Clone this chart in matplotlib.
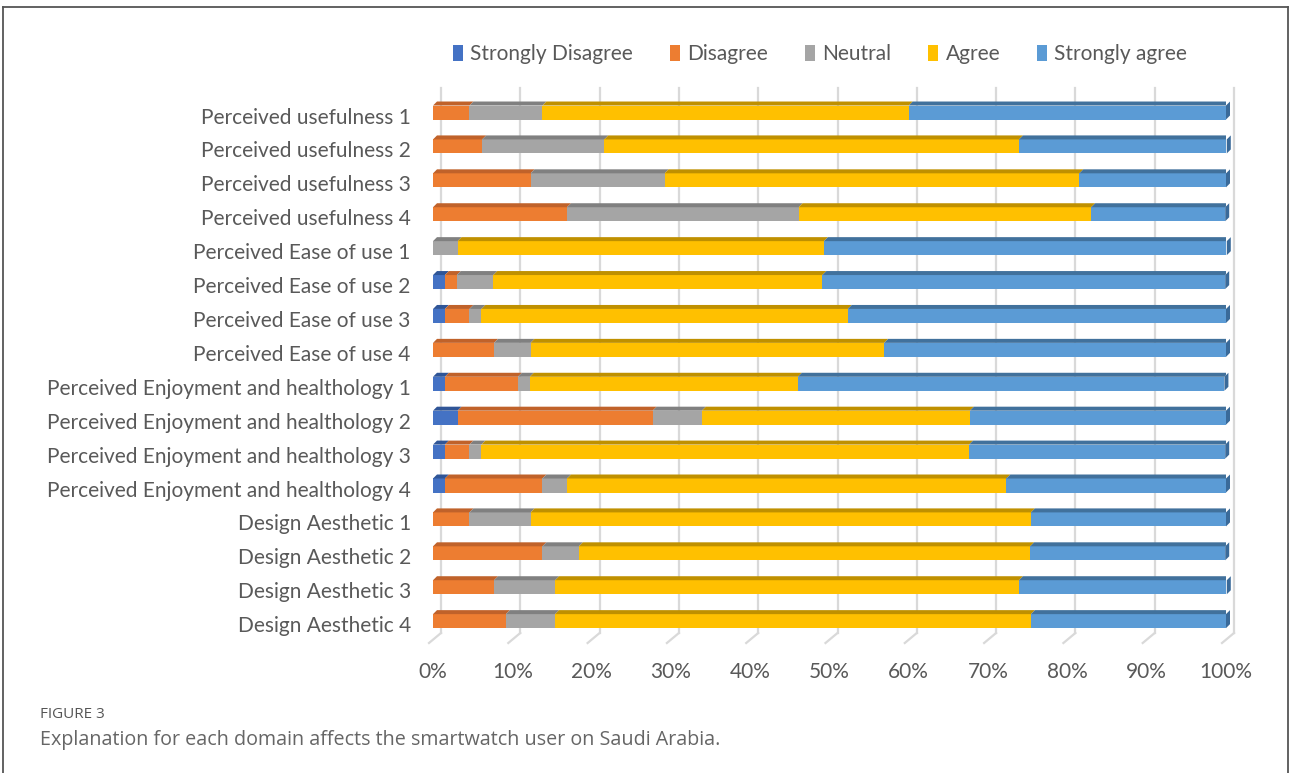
import numpy as np
import matplotlib.pyplot as plt
from matplotlib.patches import Polygon, Patch
from matplotlib.lines import Line2D
from matplotlib.transforms import ScaledTranslation

plt.rcParams["font.family"] = ["Lato", "DejaVu Sans"]

categories = [
    "Perceived usefulness 1", "Perceived usefulness 2",
    "Perceived usefulness 3", "Perceived usefulness 4",
    "Perceived Ease of use 1", "Perceived Ease of use 2",
    "Perceived Ease of use 3", "Perceived Ease of use 4",
    "Perceived Enjoyment and healthology 1", "Perceived Enjoyment and healthology 2",
    "Perceived Enjoyment and healthology 3", "Perceived Enjoyment and healthology 4",
    "Design Aesthetic 1", "Design Aesthetic 2",
    "Design Aesthetic 3", "Design Aesthetic 4",
]
series_names = ["Strongly Disagree", "Disagree", "Neutral", "Agree", "Strongly agree"]

# percent of respondents per answer
strongly_disagree = [0, 0, 0, 0, 0, 1.5, 1.5, 0, 1.5, 3.1, 1.5, 1.5, 0, 0, 0, 0]
disagree = [4.6, 6.2, 12.3, 16.9, 0, 1.5, 3.1, 7.7, 9.2, 24.6, 3.1, 12.3, 4.6, 13.8, 7.7, 9.2]
neutral = [9.2, 15.4, 16.9, 29.2, 3.1, 4.6, 1.5, 4.6, 1.5, 6.2, 1.5, 3.1, 7.7, 4.6, 7.7, 6.2]
agree = [46.2, 52.3, 52.3, 36.9, 46.2, 41.5, 46.2, 44.6, 33.8, 33.8, 61.5, 55.4, 63.1, 56.9, 58.5, 60.0]
strongly_agree = [40.0, 26.2, 18.5, 16.9, 50.8, 50.8, 47.7, 43.1, 53.8, 32.3, 32.3, 27.7, 24.6, 24.6, 26.2, 24.6]

front_colors = ["#4472C4", "#ED7D31", "#A5A5A5", "#FFC000", "#5B9BD5"]
top_colors = ["#2F5597", "#C0622A", "#808080", "#BF9000", "#41719C"]
text_color = "#595959"

W, H, DPI = 1290, 773, 100
fig = plt.figure(figsize=(W / DPI, H / DPI), dpi=DPI)

# plot area in pixels: x 433..1226, y 88..633
ax = fig.add_axes([433 / W, (H - 633) / H, 793 / W, 545 / H])
ax.set_xlim(0, 100)
row_px = 33.9
ax.set_ylim(15.35, -0.723)

y = np.arange(len(categories))
bar_h = 14 / row_px
dx = 4 / 7.93          # depth of the top face in % units
dy = 4 / row_px        # depth of the top face in row units

data = [strongly_disagree, disagree, neutral, agree, strongly_agree]
left = np.zeros(len(categories))
for k, vals in enumerate(data):
    vals = np.asarray(vals, dtype=float)
    bars = ax.barh(y, vals, left=left, height=bar_h, color=front_colors[k],
                   edgecolor="none", zorder=3)
    for rect in bars:
        x0, w = rect.get_x(), rect.get_width()
        if w <= 0:
            continue
        top = rect.get_y()
        ax.add_patch(Polygon([(x0, top), (x0 + w, top), (x0 + w + dx, top - dy),
                              (x0 + dx, top - dy)], closed=True,
                             facecolor=top_colors[k], edgecolor="none", zorder=3))
    left = left + vals

# right side face on the end of each bar
for i in range(len(categories)):
    xe = left[i]
    top = y[i] - bar_h / 2
    bot = y[i] + bar_h / 2
    ax.add_patch(Polygon([(xe, top), (xe + dx, top - dy), (xe + dx, bot - dy), (xe, bot)],
                         closed=True, facecolor="#3A6A99", edgecolor="none", zorder=3,
                         clip_on=False))

# back-wall gridlines and floor ticks
shift = ScaledTranslation(8 / DPI, 0, fig.dpi_scale_trans)
for xv in range(0, 101, 10):
    ax.plot([xv, xv], [-0.723, 15.35], color="#D9D9D9", lw=1.6, zorder=1,
            transform=ax.transData + shift, clip_on=False)
    ax.plot([xv + 8 / 7.93, xv - 4 / 7.93], [15.35, 15.35 + 10 / row_px],
            color="#D9D9D9", lw=1.6, zorder=1, clip_on=False)

ax.set_yticks(y)
ax.set_yticklabels(categories, fontsize=15, color=text_color)
ax.set_xticks(range(0, 101, 10))
ax.set_xticklabels([f"{v}%" for v in range(0, 101, 10)], fontsize=15, color=text_color)
ax.tick_params(axis="y", length=0, pad=16)
ax.tick_params(axis="x", length=0, pad=21)
down = ScaledTranslation(0, -3 / DPI, fig.dpi_scale_trans)
for lbl in ax.get_yticklabels():
    lbl.set_transform(lbl.get_transform() + down)
for s in ax.spines.values():
    s.set_visible(False)
ax.set_facecolor("none")

handles = [Patch(facecolor=c, edgecolor="none") for c in front_colors]
fig.legend(handles, series_names, loc="center", bbox_to_anchor=(820 / W, 1 - 54 / H),
           ncol=5, frameon=False, fontsize=15, handlelength=0.5, handleheight=0.8,
           handletextpad=0.35, columnspacing=1.75, labelcolor=text_color)

# caption
fig.text(40 / W, 1 - 714 / H, "FIGURE 3", fontsize=11, color="#555555",
         va="center", family="Open Sans")
fig.text(40 / W, 1 - 740 / H,
         "Explanation for each domain affects the smartwatch user on Saudi Arabia.",
         fontsize=14.2, color="#666666", va="center", family="Open Sans")

# frame around the figure
for xs, ys in [([3, 3], [7, H]), ([3, 1288], [7, 7]), ([1288, 1288], [7, H])]:
    fig.add_artist(Line2D([v / W for v in xs], [1 - v / H for v in ys],
                          color="#555555", lw=1.3))

fig.savefig("out.png", dpi=DPI)
